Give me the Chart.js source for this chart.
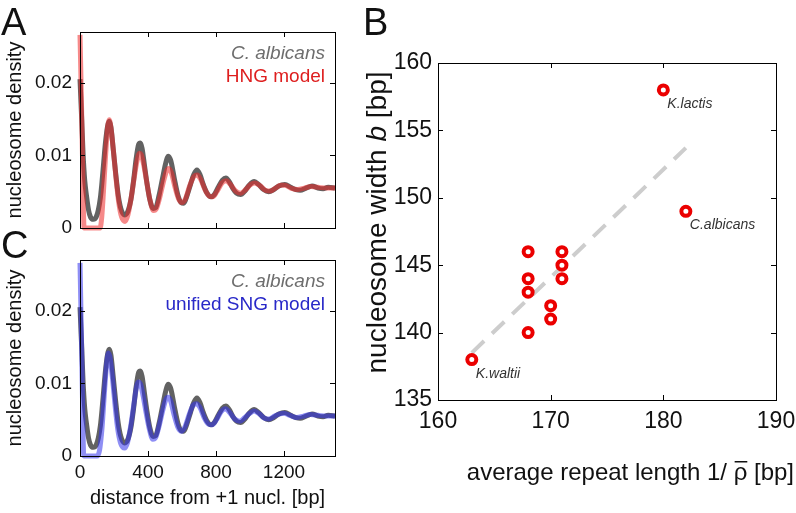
<!DOCTYPE html>
<html>
<head>
<meta charset="utf-8">
<script src="https://cdn.jsdelivr.net/npm/chart.js@4.4.1/dist/chart.umd.min.js"></script>
<style>
  body { margin: 0; background: #fff; }
  #wrap { position: relative; width: 796px; height: 513px; font-family: "Liberation Sans", Arial, sans-serif; }
  canvas { position: absolute; }
  .tag { position: absolute; font-size: 38px; line-height: 38px; color: #111; }
</style>
</head>
<body>
<div id="wrap">
  <canvas id="chartA" width="345" height="250" style="left:0;top:0"></canvas>
  <canvas id="chartC" width="345" height="263" style="left:0;top:250px"></canvas>
  <canvas id="chartB" width="451" height="513" style="left:345px;top:0"></canvas>
  <div class="tag" style="left:1px;top:3px">A</div>
  <div class="tag" style="left:363px;top:3px">B</div>
  <div class="tag" style="left:1px;top:226px">C</div>
</div>
<script>
// C. albicans nucleosome density
const dataBp = [0,10,18,28,39,50,62,78,95,108,120,130,140,150,162,172,182,195,210,225,240,260,280,300,315,330,345,355,365,380,395,410,430,445,465,485,505,520,535,555,575,595,610,630,650,670,688,705,725,745,770,790,815,838,858,878,900,920,945,970,995,1025,1050,1080,1110,1140,1170,1205,1240,1270,1295,1330,1365,1400,1430,1460,1500];
const dataDensity = [0.0205,0.015,0.0103,0.0065,0.0043,0.0025,0.0015,0.0012,0.0015,0.0025,0.0042,0.0065,0.0092,0.0118,0.0140,0.0147,0.0139,0.0110,0.0075,0.0045,0.0027,0.0018,0.0022,0.0040,0.0065,0.0095,0.0115,0.0117,0.0110,0.0085,0.0060,0.0040,0.0027,0.0028,0.0045,0.0068,0.0090,0.0099,0.0092,0.0068,0.0046,0.0035,0.0034,0.0045,0.0060,0.0074,0.0080,0.0074,0.0060,0.0049,0.0043,0.0046,0.0057,0.0066,0.0069,0.0064,0.0054,0.0048,0.0046,0.0051,0.0059,0.0064,0.0060,0.0053,0.0050,0.0053,0.0058,0.0060,0.0056,0.0053,0.0052,0.0055,0.0058,0.0055,0.0054,0.0056,0.0055];

// HNG model (panel A)
const hngBp = [0,8,16,24,60,100,118,128,138,150,163,172,182,197,212,228,245,265,282,300,318,335,350,362,378,395,412,432,450,470,490,510,522,538,558,580,600,620,645,670,690,710,735,760,780,805,835,860,885,915,945,975,1005,1030,1060,1090,1120,1150,1180,1205,1240,1280,1320,1360,1400,1450,1500];
const hngDensity = [0.0266,0.018,0.008,0,0,0,0,0.0015,0.0050,0.0098,0.0140,0.0149,0.0138,0.0105,0.0068,0.0035,0.0015,0.0009,0.0018,0.0040,0.0068,0.0092,0.0103,0.0100,0.0083,0.0060,0.0038,0.0024,0.0027,0.0043,0.0063,0.0079,0.0082,0.0076,0.0057,0.0040,0.0035,0.0040,0.0058,0.0071,0.0073,0.0067,0.0053,0.0044,0.0043,0.0050,0.0062,0.0065,0.0060,0.0051,0.0048,0.0053,0.0060,0.0062,0.0058,0.0052,0.0051,0.0055,0.0059,0.0059,0.0055,0.0053,0.0055,0.0057,0.0056,0.0055,0.0055];

// unified SNG model (panel C)
const sngBp = [0,8,16,22,60,100,115,130,145,157,167,177,192,207,222,240,262,280,298,315,330,343,356,372,390,408,428,446,466,486,505,518,533,553,575,597,617,642,665,685,705,730,755,778,803,830,855,880,910,940,970,1000,1025,1055,1085,1115,1145,1175,1200,1235,1275,1315,1355,1400,1450,1500];
const sngDensity = [0.0266,0.017,0.006,0,0,0,0.0008,0.0040,0.0092,0.0128,0.0142,0.0135,0.0105,0.0068,0.0037,0.0017,0.0011,0.0019,0.0041,0.0068,0.0092,0.0102,0.0099,0.0082,0.0058,0.0037,0.0023,0.0026,0.0042,0.0062,0.0078,0.0081,0.0076,0.0057,0.0040,0.0034,0.0040,0.0057,0.0070,0.0072,0.0067,0.0053,0.0044,0.0043,0.0050,0.0061,0.0065,0.0060,0.0051,0.0048,0.0053,0.0059,0.0062,0.0058,0.0052,0.0051,0.0055,0.0058,0.0059,0.0056,0.0053,0.0055,0.0057,0.0056,0.0055,0.0055];
const bpTicks = [0, 400, 800, 1200];
const densityTicks = [0, 0.01, 0.02];

// panel B: repeat length vs nucleosome width per species
const repeatLength = [163,168,168,168,168,170,170,171,171,171,180,182];
const nucWidth = [138,140,143,144,146,141,142,144,145,146,158,149];
const speciesNames = ['K.waltii','','','','','','','','','','K.lactis','C.albicans'];
const fitX = [163, 182];
const fitY = [138.5, 153.7];
const repeatTicks = [160, 170, 180, 190];
const widthTicks = [135, 140, 145, 150, 155, 160];

const FONT = '"Liberation Sans", Arial, sans-serif';
Chart.defaults.font.family = FONT;
Chart.defaults.color = '#111';

const pairs = (xs, ys) => xs.map((x, i) => ({x: x, y: ys[i]}));
const setTicks = vals => s => { s.ticks = vals.map(v => ({value: v})); };

// strip the automatic label padding so the plot box lands where we want
function fixed(w, h) {
  return function (s) {
    if (w != null) s.width = w;
    if (h != null) s.height = h;
    s.paddingLeft = 0; s.paddingRight = 0; s.paddingTop = 0; s.paddingBottom = 0;
  };
}

// box + inward matlab style ticks
const frame = {
  id: 'frame',
  afterDatasetsDraw(chart) {
    const {ctx, chartArea: a, scales: {x, y}} = chart;
    const len = 5;
    ctx.save();
    ctx.strokeStyle = '#000';
    ctx.lineWidth = 1;
    ctx.beginPath();
    x.ticks.forEach(t => {
      const px = Math.round(x.getPixelForValue(t.value)) + 0.5;
      ctx.moveTo(px, a.bottom); ctx.lineTo(px, a.bottom - len);
      ctx.moveTo(px, a.top); ctx.lineTo(px, a.top + len);
    });
    y.ticks.forEach(t => {
      const py = Math.round(y.getPixelForValue(t.value)) + 0.5;
      ctx.moveTo(a.left, py); ctx.lineTo(a.left + len, py);
      ctx.moveTo(a.right, py); ctx.lineTo(a.right - len, py);
    });
    ctx.stroke();
    ctx.strokeRect(Math.round(a.left) + 0.5, Math.round(a.top) + 0.5, Math.round(a.right - a.left), Math.round(a.bottom - a.top));
    ctx.restore();
  }
};

// legend text in the upper right corner of A and C
const note = {
  id: 'note',
  afterDraw(chart, args, opts) {
    const {ctx, chartArea: a} = chart;
    ctx.save();
    ctx.textAlign = 'right';
    ctx.textBaseline = 'alphabetic';
    (opts.lines || []).forEach((l, i) => {
      ctx.font = l.font;
      ctx.fillStyle = l.color;
      ctx.fillText(l.text, a.right - 10, a.top + 27 + i * 23);
    });
    ctx.restore();
  }
};

function densityChart(id, modelBp, modelDensity, modelColor, label, labelColor, showX, pad, xHeight) {
  return new Chart(document.getElementById(id), {
    type: 'line',
    data: {
      datasets: [
        {data: pairs(modelBp, modelDensity), borderColor: modelColor, borderWidth: 5, pointRadius: 0, cubicInterpolationMode: 'monotone', clip: 4},
        {data: pairs(dataBp, dataDensity), borderColor: 'rgb(98,98,98)', borderWidth: 5, pointRadius: 0, cubicInterpolationMode: 'monotone', clip: 4}
      ]
    },
    options: {
      responsive: false,
      animation: false,
      devicePixelRatio: 1,
      layout: {padding: pad},
      plugins: {
        legend: {display: false},
        tooltip: {enabled: false},
        note: {lines: [
          {text: 'C. albicans', color: 'rgb(110,110,110)', font: 'italic 19px ' + FONT},
          {text: label, color: labelColor, font: '19px ' + FONT}
        ]}
      },
      scales: {
        x: {
          type: 'linear', min: 0, max: 1500,
          grid: {display: false, drawTicks: false},
          border: {display: false},
          afterBuildTicks: setTicks(bpTicks),
          ticks: {display: showX, padding: 5, font: {size: 19}, callback: v => String(v)},
          title: {display: showX, text: 'distance from +1 nucl. [bp]', font: {size: 20}, padding: {top: 0, bottom: 3}},
          afterFit: fixed(null, xHeight)
        },
        y: {
          min: 0, max: 0.027,
          grid: {display: false, drawTicks: false},
          border: {display: false},
          afterBuildTicks: setTicks(densityTicks),
          ticks: {padding: 8, font: {size: 19}, callback: v => v === 0 ? '0' : v.toFixed(2)},
          title: {display: true, text: 'nucleosome density', font: {size: 20}, padding: {top: 3, bottom: 0}},
          afterFit: fixed(80, null)
        }
      }
    },
    plugins: [frame, note]
  });
}

densityChart('chartA', hngBp, hngDensity, 'rgba(238,40,40,0.55)', 'HNG model', 'rgb(222,30,30)', false,
  {left: 0, top: 32, right: 10, bottom: 22}, 0);
densityChart('chartC', sngBp, sngDensity, 'rgba(50,50,235,0.55)', 'unified SNG model', 'rgb(40,40,200)', true,
  {left: 0, top: 10, right: 10, bottom: 0}, 57);

// draws a run of text pieces [text, style] left to right, returns width
function runText(ctx, parts, x, y, size, measureOnly) {
  let cx = x;
  parts.forEach(p => {
    ctx.font = p[1] + size + 'px ' + FONT;
    if (!measureOnly) ctx.fillText(p[0], cx, y);
    cx += ctx.measureText(p[0]).width;
  });
  return cx - x;
}

// species names next to their points, and the axis titles of B
const speciesText = {
  id: 'speciesText',
  afterDraw(chart) {
    const {ctx, chartArea: a} = chart;
    ctx.save();
    ctx.fillStyle = '#333';
    ctx.font = 'italic 14px ' + FONT;
    ctx.textAlign = 'left';
    const pts = chart.getDatasetMeta(0).data;
    speciesNames.forEach((n, i) => {
      if (n) ctx.fillText(n, pts[i].x + 4, pts[i].y + 18);
    });

    // x title: average repeat length 1/ rho-bar [bp]
    ctx.fillStyle = '#111';
    ctx.textBaseline = 'alphabetic';
    const xParts = [['average repeat length 1/ ', ''], ['\u03C1', ''], [' [bp]', '']];
    const xw = runText(ctx, xParts, 0, 0, 24, true);
    const x0 = chart.width - 2 - xw;
    runText(ctx, xParts, x0, 480, 24, false);
    ctx.font = '24px ' + FONT;
    const rx = x0 + ctx.measureText('average repeat length 1/ ').width;
    const rw = ctx.measureText('\u03C1').width;
    ctx.fillRect(rx + 1, 461, rw - 1, 1.5);

    // y title with italic b
    const yParts = [['nucleosome width ', ''], ['b', 'italic '], [' [bp]', '']];
    const yw = runText(ctx, yParts, 0, 0, 28, true);
    ctx.translate(33, (a.top + a.bottom) / 2 - 9);
    ctx.rotate(-Math.PI / 2);
    ctx.textBaseline = 'middle';
    runText(ctx, yParts, -yw / 2, 0, 28, false);
    ctx.restore();
  }
};

new Chart(document.getElementById('chartB'), {
  type: 'scatter',
  data: {
    datasets: [
      {data: pairs(repeatLength, nucWidth), pointRadius: 4.5, borderWidth: 4, pointBorderColor: 'rgb(235,0,0)', pointBackgroundColor: '#fff', clip: false},
      {type: 'line', data: pairs(fitX, fitY), borderColor: 'rgb(205,205,205)', borderWidth: 4, borderDash: [17, 11], pointRadius: 0, clip: false}
    ]
  },
  options: {
    responsive: false,
    animation: false,
    devicePixelRatio: 1,
    layout: {padding: {left: 0, top: 63, right: 20, bottom: 0}},
    plugins: {legend: {display: false}, tooltip: {enabled: false}},
    scales: {
      x: {
        type: 'linear', min: 160, max: 190,
        grid: {display: false, drawTicks: false},
        border: {display: false},
        afterBuildTicks: setTicks(repeatTicks),
        ticks: {padding: 8, font: {size: 23}},
        title: {display: false},
        afterFit: fixed(null, 113)
      },
      y: {
        min: 135, max: 160,
        grid: {display: false, drawTicks: false},
        border: {display: false},
        afterBuildTicks: setTicks(widthTicks),
        ticks: {padding: 6, font: {size: 23}},
        title: {display: false},
        afterFit: fixed(93, null)
      }
    }
  },
  plugins: [frame, speciesText]
});
</script>
</body>
</html>
